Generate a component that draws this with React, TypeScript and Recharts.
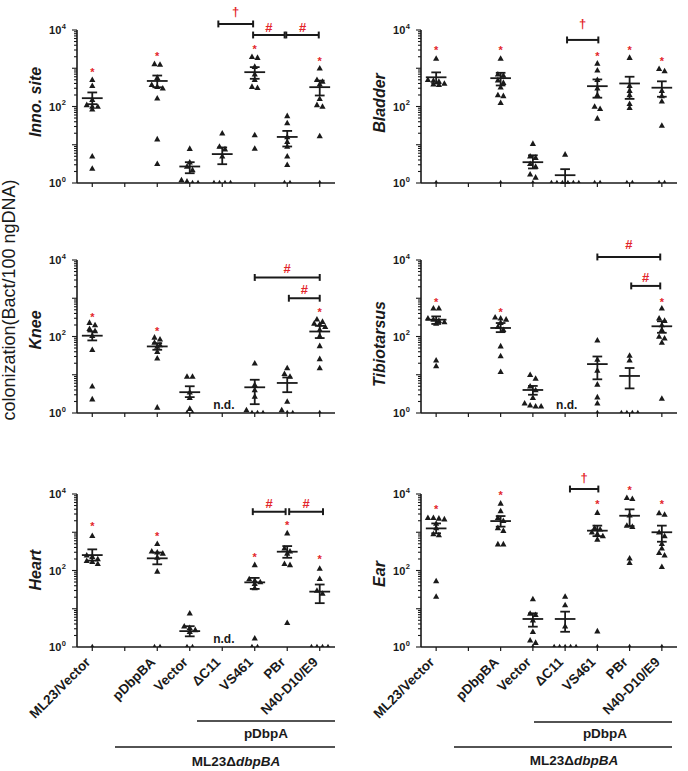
import { ScatterChart, Scatter, XAxis, YAxis, ReferenceLine, ReferenceDot } from 'recharts'

const INK = '#1a1a1a'
const RED = '#e3262b'
const FONT = '"Liberation Sans", Arial, sans-serif'

// x categories (slot 1 is left empty on purpose)
const GROUPS = ['ML23/Vector', '', 'pDbpBA', 'Vector', 'ΔC11', 'VS461', 'PBr', 'N40-D10/E9']
const X_TICKS = [0, 1, 2, 3, 4, 5, 6, 7]
// log axis ticks, labels only on 10^0, 10^2, 10^4
const Y_TICKS = [
  1, 2, 3, 4, 5, 6, 7, 8, 9,
  10, 20, 30, 40, 50, 60, 70, 80, 90,
  100, 200, 300, 400, 500, 600, 700, 800, 900,
  1000, 2000, 3000, 4000, 5000, 6000, 7000, 8000, 9000,
  10000,
]
const Y_LABELS = [1, 100, 10000]

type Bracket = { from: number; to: number; y: number; mark: string; markY: number }

// ---- Inno. site ----
const innoPoints = [
  [500, 350, 150, 110, 100, 100, 85, 5, 2.4],
  [],
  [1300, 1250, 570, 370, 330, 300, 165, 14, 3.2],
  [7.9, 3.5, 2.7, 2.2, 1.2, 1.1, 1, 1],
  [20, 9, 7.7, 5, 1, 1, 1, 1],
  [2000, 1900, 1100, 700, 500, 330, 310, 18, 8],
  [57, 37, 16, 12, 9, 5, 3, 1, 1],
  [1000, 500, 450, 380, 160, 110, 100, 17, 1],
]
const innoMeans = [165, null, 465, 2.7, 5.7, 790, 16, 320]
const innoSem = [[115, 233], null, [318, 645], [1.8, 3.5], [3.1, 8.5], [530, 1070], [9, 23], [194, 475]]
const innoStars = [910, null, 2330, null, null, 3700, null, 1700]
const innoBrackets: Bracket[] = [
  { from: 3.88, to: 4.95, y: 14400, mark: '†', markY: 28000 },
  { from: 4.95, to: 5.92, y: 7400, mark: '#', markY: 11500 },
  { from: 5.97, to: 6.97, y: 7400, mark: '#', markY: 11500 },
]

// ---- Bladder ----
const bladderPoints = [
  [1800, 500, 480, 450, 400, 380, 370, 1],
  [],
  [1800, 700, 650, 490, 420, 320, 200, 190, 125, 1],
  [10.7, 5, 4.6, 3.2, 2.7, 1.7, 1.4, 1],
  [5.6, 1, 1, 1, 1, 1, 1],
  [1340, 890, 500, 300, 200, 100, 87, 49, 1, 1],
  [1900, 350, 260, 200, 118, 93, 1, 1],
  [970, 850, 260, 190, 137, 32, 1, 1],
]
const bladderMeans = [580, null, 550, 3.5, 1.6, 340, 400, 310]
const bladderSem = [[400, 780], null, [355, 760], [2.4, 5.3], [1, 2.3], [170, 510], [158, 600], [180, 455]]
const bladderStars = [3300, null, 3300, null, null, 2350, 3300, 1700]
const bladderBrackets: Bracket[] = [{ from: 4.06, to: 5.03, y: 5500, mark: '†', markY: 14000 }]

// ---- Knee ----
const kneePoints = [
  [230, 200, 160, 140, 105, 45, 5, 2.3],
  [],
  [95, 85, 70, 60, 55, 40, 27, 1.4],
  [9, 9, 3.5, 2.5, 1.3, 1, 1],
  [],
  [20, 5.5, 4, 2.7, 1.2, 1, 1, 1],
  [15, 10.6, 9, 2, 1.2, 1, 1],
  [282, 245, 220, 210, 180, 150, 104, 57, 26, 15, 1],
]
const kneeMeans = [105, null, 55, 3.5, null, 4.7, 6.1, 135]
const kneeSem = [[79, 135], null, [45, 67], [2.6, 5], null, [1.7, 7.4], [3.5, 8.5], [91, 190]]
const kneeStars = [370, null, 160, null, null, null, null, 500]
const kneeBrackets: Bracket[] = [
  { from: 5, to: 7, y: 3500, mark: '#', markY: 6000 },
  { from: 6.05, to: 7, y: 1000, mark: '#', markY: 1650 },
]

// ---- Tibiotarsus ----
const tibioPoints = [
  [550, 550, 300, 280, 260, 240, 220, 24, 17],
  [],
  [320, 300, 280, 230, 180, 150, 56, 31, 12],
  [10, 8, 5, 4, 2.5, 1.8, 1.6, 1.5, 1.5],
  [],
  [80, 25, 13, 5.6, 2.6, 1.8, 1],
  [32, 24, 1, 1, 1, 1],
  [550, 300, 260, 200, 150, 100, 90, 70, 2.4],
]
const tibioMeans = [275, null, 167, 4, null, 19, 9.3, 185]
const tibioSem = [[213, 335], null, [130, 225], [3, 5.1], null, [7.6, 30], [4.4, 15], [125, 250]]
const tibioStars = [910, null, 480, null, null, null, null, 910]
const tibioBrackets: Bracket[] = [
  { from: 5, to: 6.95, y: 12000, mark: '#', markY: 26000 },
  { from: 6.05, to: 6.95, y: 2100, mark: '#', markY: 3400 },
]

// ---- Heart ----
const heartPoints = [
  [810, 250, 230, 200, 180, 170, 150, 1],
  [],
  [500, 320, 300, 280, 220, 95, 1, 1],
  [7.6, 3.5, 3.2, 2.8, 2.5, 1, 1],
  [],
  [140, 60, 55, 50, 45, 35, 1.7, 1, 1],
  [950, 380, 320, 280, 150, 140, 4.3],
  [113, 61, 30, 25, 1, 1, 1, 1],
]
const heartMeans = [253, null, 208, 2.6, null, 49, 310, 28]
const heartSem = [[182, 357], null, [145, 295], [1.9, 3.5], null, [33, 64], [215, 435], [14, 43]]
const heartStars = [1620, null, 890, null, null, 255, 1780, 225]
const heartBrackets: Bracket[] = [
  { from: 4.94, to: 5.95, y: 3450, mark: '#', markY: 5700 },
  { from: 6.06, to: 7.1, y: 3450, mark: '#', markY: 5700 },
]

// ---- Ear ----
const earPoints = [
  [2400, 2400, 2300, 2200, 1700, 1300, 900, 850, 53, 21],
  [],
  [5700, 3600, 2400, 2000, 1300, 1100, 490, 490],
  [18, 7.5, 7, 5, 2.5, 1.5, 1.3, 1],
  [21, 12.5, 3.5, 1, 1, 1, 1, 1],
  [3250, 1300, 1200, 1000, 900, 800, 650, 2.6, 1],
  [8000, 7500, 2800, 1500, 1400, 210, 160, 1],
  [3200, 2900, 1000, 800, 500, 380, 290, 250, 125, 1],
]
const earMeans = [1260, null, 1960, 5.4, 5.4, 1100, 2700, 1000]
const earSem = [[940, 1700], null, [1400, 2650], [3.4, 7.6], [2.5, 8.4], [790, 1490], [1450, 3970], [565, 1490]]
const earStars = [4500, null, 10800, null, null, 6300, 14000, 6300]
const earBrackets: Bracket[] = [{ from: 4.15, to: 5.03, y: 13500, mark: '†', markY: 26000 }]

// spread points of one group sideways when their values sit close together
const spread = (vals: number[], i: number) => {
  const sorted = [...vals].sort((a, b) => b - a)
  const out: { x: number; y: number }[] = []
  let k = 0
  while (k < sorted.length) {
    let j = k
    while (j + 1 < sorted.length && Math.log10(sorted[k]) - Math.log10(sorted[j + 1]) < 0.1) j++
    const n = j - k + 1
    for (let m = 0; m < n; m++) out.push({ x: i + (m - (n - 1) / 2) * 0.17, y: sorted[k + m] })
    k = j + 1
  }
  return out
}

const Triangle = (props: any) => {
  const { cx, cy } = props
  if (cx == null || cy == null) return <g />
  return <polygon points={`${cx},${cy - 3.3} ${cx - 3.1},${cy + 2.3} ${cx + 3.1},${cy + 2.3}`} fill={INK} />
}

const LogTick = (props: any) => {
  const { x, y, payload } = props
  const p = Math.log10(payload.value)
  const major = Math.abs(p - Math.round(p)) < 1e-6
  const labelled = Y_LABELS.includes(payload.value)
  return (
    <g>
      <line x1={x} x2={x - (major ? 5 : 3)} y1={y} y2={y} stroke={INK} strokeWidth={1.1} />
      {labelled && (
        <text x={x - 11} y={y + 4} textAnchor="end" fontSize={11} fontWeight="bold" fontFamily={FONT} fill={INK}>
          10
          <tspan fontSize={7.5} dx={0.5} dy={-5.5}>{Math.round(p)}</tspan>
        </text>
      )}
    </g>
  )
}

const CategoryTick = (props: any) => {
  const { x, y, payload, labels } = props
  const name = GROUPS[payload.value]
  return (
    <g>
      <line x1={x} x2={x} y1={y} y2={y + 4} stroke={INK} strokeWidth={1.2} />
      {labels && name && (
        <text
          x={x - 1}
          y={y + 16}
          transform={`rotate(-45 ${x - 1} ${y + 16})`}
          textAnchor="end"
          fontSize={13.5}
          fontWeight="bold"
          fontFamily={FONT}
          fill={INK}
        >
          {name}
        </text>
      )}
    </g>
  )
}

const textMark = (char: string, color: string, size: number, lift: number) => (p: any) =>
  (
    <text x={p.cx} y={p.cy + lift} textAnchor="middle" fontSize={size} fontWeight="bold" fontFamily={FONT} fill={color}>
      {char}
    </text>
  )

type PanelProps = {
  points: number[][]
  means: (number | null)[]
  sem: (number[] | null)[]
  stars: (number | null)[]
  brackets: Bracket[]
  nd?: boolean
  labels?: boolean
  height: number
  right: number
}

const CAP = Math.pow(10, 0.09)

const Panel = ({ points, means, sem, stars, brackets, nd, labels, height, right }: PanelProps) => {
  const data = points.flatMap((vals, i) => spread(vals, i))
  const refs: any[] = []
  means.forEach((m, i) => {
    if (m == null) return
    refs.push(
      <ReferenceLine key={`m${i}`} segment={[{ x: i - 0.32, y: m }, { x: i + 0.32, y: m }]} stroke={INK} strokeWidth={1.8} ifOverflow="visible" />
    )
    const s = sem[i]
    if (!s) return
    refs.push(
      <ReferenceLine key={`v${i}`} segment={[{ x: i, y: s[0] }, { x: i, y: s[1] }]} stroke={INK} strokeWidth={1.8} ifOverflow="visible" />,
      <ReferenceLine key={`h${i}`} segment={[{ x: i - 0.15, y: s[1] }, { x: i + 0.15, y: s[1] }]} stroke={INK} strokeWidth={1.8} ifOverflow="visible" />,
      <ReferenceLine key={`l${i}`} segment={[{ x: i - 0.15, y: s[0] }, { x: i + 0.15, y: s[0] }]} stroke={INK} strokeWidth={1.8} ifOverflow="visible" />
    )
  })
  brackets.forEach((b, k) => {
    refs.push(
      <ReferenceLine key={`b${k}`} segment={[{ x: b.from, y: b.y }, { x: b.to, y: b.y }]} stroke={INK} strokeWidth={2} ifOverflow="visible" />,
      <ReferenceLine key={`bl${k}`} segment={[{ x: b.from, y: b.y / CAP }, { x: b.from, y: b.y * CAP }]} stroke={INK} strokeWidth={2} ifOverflow="visible" />,
      <ReferenceLine key={`br${k}`} segment={[{ x: b.to, y: b.y / CAP }, { x: b.to, y: b.y * CAP }]} stroke={INK} strokeWidth={2} ifOverflow="visible" />,
      <ReferenceDot
        key={`bm${k}`}
        x={(b.from + b.to) / 2}
        y={b.markY}
        ifOverflow="visible"
        shape={textMark(b.mark, RED, 13, b.mark === '#' ? 4.5 : 3.5)}
      />
    )
  })
  stars.forEach((s, i) => {
    if (s == null) return
    refs.push(<ReferenceDot key={`s${i}`} x={i} y={s} ifOverflow="visible" shape={textMark('*', RED, 11, 6)} />)
  })
  if (nd) {
    refs.push(<ReferenceDot key="nd" x={4.05} y={1.6} ifOverflow="visible" shape={textMark('n.d.', INK, 12, 4)} />)
  }

  return (
    <ScatterChart width={344} height={height} margin={{ top: 30, right, bottom: 0, left: 27 }}>
      <XAxis
        type="number"
        dataKey="x"
        domain={[-0.47, 7.47]}
        ticks={X_TICKS}
        interval={0}
        allowDataOverflow
        height={height - 183}
        tickSize={0}
        tickMargin={0}
        tickLine={false}
        axisLine={{ stroke: INK, strokeWidth: 1.6 }}
        tick={(p: any) => <CategoryTick {...p} labels={labels} />}
      />
      <YAxis
        type="number"
        dataKey="y"
        scale="log"
        domain={[1, 10000]}
        allowDataOverflow
        ticks={Y_TICKS}
        interval={0}
        width={50}
        tickSize={0}
        tickMargin={0}
        tickLine={false}
        axisLine={{ stroke: INK, strokeWidth: 1.6 }}
        tick={(p: any) => <LogTick {...p} />}
      />
      {refs}
      <Scatter data={data} shape={Triangle} isAnimationActive={false} />
    </ScatterChart>
  )
}

const PANELS = [
  { title: 'Inno. site', left: 0, top: 0, h: 200, right: 9, tx: 41, ty: 102, points: innoPoints, means: innoMeans, sem: innoSem, stars: innoStars, brackets: innoBrackets },
  { title: 'Bladder', left: 344, top: 0, h: 200, right: 11, tx: 385, ty: 103, points: bladderPoints, means: bladderMeans, sem: bladderSem, stars: bladderStars, brackets: bladderBrackets },
  { title: 'Knee', left: 0, top: 230, h: 200, right: 9, tx: 41, ty: 330, nd: true, points: kneePoints, means: kneeMeans, sem: kneeSem, stars: kneeStars, brackets: kneeBrackets },
  { title: 'Tibiotarsus', left: 344, top: 230, h: 200, right: 11, tx: 385, ty: 344, nd: true, points: tibioPoints, means: tibioMeans, sem: tibioSem, stars: tibioStars, brackets: tibioBrackets },
  { title: 'Heart', left: 0, top: 464, h: 307, right: 9, tx: 41, ty: 570, nd: true, labels: true, points: heartPoints, means: heartMeans, sem: heartSem, stars: heartStars, brackets: heartBrackets },
  { title: 'Ear', left: 344, top: 464, h: 307, right: 11, tx: 385, ty: 574, labels: true, points: earPoints, means: earMeans, sem: earSem, stars: earStars, brackets: earBrackets },
]

export default function App() {
  return (
    <div style={{ position: 'absolute', left: 0, top: 0, width: 688, height: 771, background: '#fff', overflow: 'hidden' }}>
      {PANELS.map((p) => (
        <div key={p.title} style={{ position: 'absolute', left: p.left, top: p.top }}>
          <Panel
            points={p.points}
            means={p.means}
            sem={p.sem}
            stars={p.stars}
            brackets={p.brackets}
            nd={p.nd}
            labels={p.labels}
            height={p.h}
            right={p.right}
          />
        </div>
      ))}
      <svg width={688} height={771} style={{ position: 'absolute', left: 0, top: 0, pointerEvents: 'none' }} fontFamily={FONT}>
        <text transform="translate(15,300) rotate(-90)" textAnchor="middle" fontSize={18} fill={INK}>
          colonization(Bact/100 ngDNA)
        </text>
        {PANELS.map((p) => (
          <text
            key={p.title}
            transform={`translate(${p.tx},${p.ty}) rotate(-90)`}
            textAnchor="middle"
            fontSize={16}
            fontWeight="bold"
            fontStyle="italic"
            fill={INK}
          >
            {p.title}
          </text>
        ))}
        {/* strain grouping under the bottom panels */}
        <g stroke={INK} strokeWidth={1.6}>
          <line x1={197} x2={335} y1={721} y2={721} />
          <line x1={115} x2={335} y1={747} y2={747} />
          <line x1={534} x2={672} y1={722} y2={722} />
          <line x1={454} x2={672} y1={747} y2={747} />
        </g>
        <g fontSize={13.5} fontWeight="bold" fill={INK} textAnchor="middle">
          <text x={266} y={738}>pDbpA</text>
          <text x={236} y={766}>
            ML23Δ<tspan fontStyle="italic">dbpBA</tspan>
          </text>
          <text x={605} y={738}>pDbpA</text>
          <text x={574} y={765}>
            ML23Δ<tspan fontStyle="italic">dbpBA</tspan>
          </text>
        </g>
      </svg>
    </div>
  )
}
